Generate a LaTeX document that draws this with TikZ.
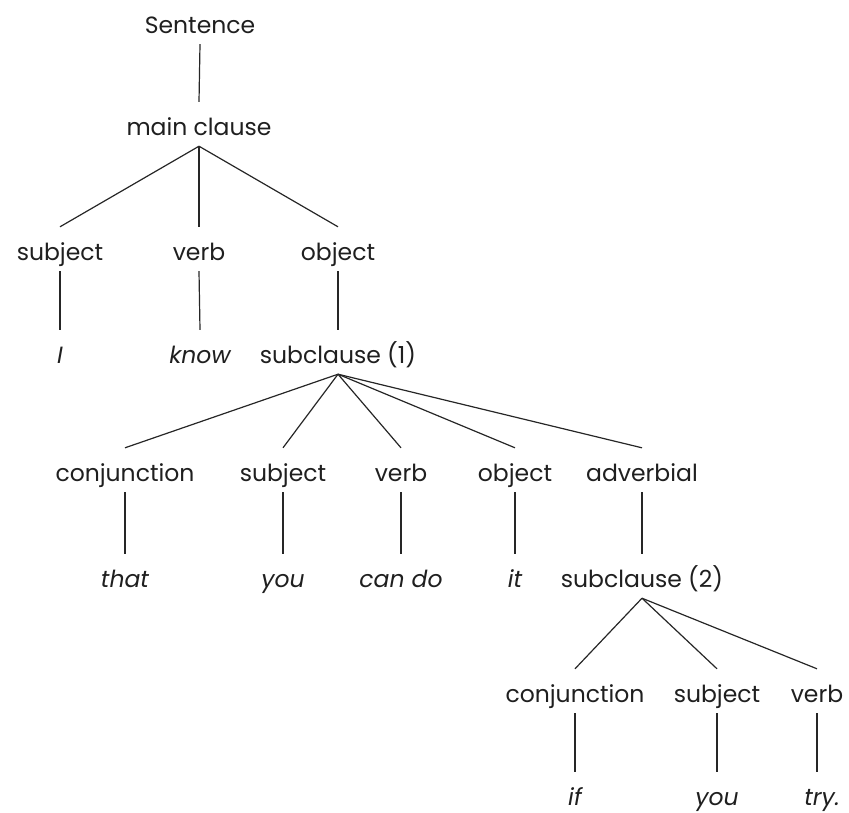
\documentclass[tikz,border=0pt]{standalone}
\usepackage{fontspec}
\setmainfont{Poppins}
\usetikzlibrary{positioning}

\begin{document}
\begin{tikzpicture}[
  x=1pt, y=-1pt,
  font=\fontsize{23.5}{27}\selectfont,
  cat/.style={
    anchor=base, text=black!88,
    text height=22pt, text depth=0pt,
    inner xsep=2pt, inner ysep=11pt
  },
  word/.style={cat, font=\fontsize{23.5}{27}\selectfont\itshape},
  branch/.style={line width=1.2pt, draw=black!85}
]
\useasboundingbox (0,0) rectangle (849,812);

% ── Row 0-1: Sentence and main clause ──────────────────────────────────────
\node[cat] (sent)  at (200,33)  {Sentence};
\node[cat] (mainc) at (199,135) {main clause};

% ── Row 2-3: Main clause constituents ──────────────────────────────────────
\node[cat]  (msubj) at (60,260)  {subject};
\node[cat]  (mverb) at (199,260) {verb};
\node[cat]  (mobj)  at (338,260) {object};
\node[word] (wI)    at (60,363)  {I};
\node[word] (wknow) at (200,363) {know};
\node[cat]  (subA)  at (338,363) {subclause (1)};

% ── Row 4-5: Subclause (1) constituents ────────────────────────────────────
\node[cat]  (aconj) at (125,481) {conjunction};
\node[cat]  (asubj) at (283,481) {subject};
\node[cat]  (averb) at (401,481) {verb};
\node[cat]  (aobj)  at (515,481) {object};
\node[cat]  (aadv)  at (642,481) {adverbial};
\node[word] (wthat) at (125,587) {that};
\node[word] (wyouA) at (283,587) {you};
\node[word] (wcan)  at (401,587) {can do};
\node[word] (wit)   at (515,587) {it};
\node[cat]  (subB)  at (642,587) {subclause (2)};

% ── Row 6-7: Subclause (2) constituents ────────────────────────────────────
\node[cat]  (bconj) at (575,702) {conjunction};
\node[cat]  (bsubj) at (717,702) {subject};
\node[cat]  (bverb) at (817,702) {verb};
\node[word] (wif)   at (575,805) {if};
\node[word] (wyouB) at (717,805) {you};
\node[word] (wtry)  at (822,805) {try.};

% ── Branches: top ──────────────────────────────────────────────────────────
\draw[branch] (sent.south) -- (mainc.north);
\draw[branch] (mainc.south) -- (msubj.north);
\draw[branch] (mainc.south) -- (mverb.north);
\draw[branch] (mainc.south) -- (mobj.north);
\draw[branch] (msubj.south) -- (wI.north);
\draw[branch] (mverb.south) -- (wknow.north);
\draw[branch] (mobj.south)  -- (subA.north);

% ── Branches: subclause (1) ────────────────────────────────────────────────
\foreach \c in {aconj,asubj,averb,aobj,aadv}
  \draw[branch] (subA.south) -- (\c.north);
\draw[branch] (aconj.south) -- (wthat.north);
\draw[branch] (asubj.south) -- (wyouA.north);
\draw[branch] (averb.south) -- (wcan.north);
\draw[branch] (aobj.south)  -- (wit.north);
\draw[branch] (aadv.south)  -- (subB.north);

% ── Branches: subclause (2) ────────────────────────────────────────────────
\foreach \c in {bconj,bsubj,bverb}
  \draw[branch] (subB.south) -- (\c.north);
\draw[branch] (bconj.south) -- (wif.north);
\draw[branch] (bsubj.south) -- (wyouB.north);
\draw[branch] (bverb.south) -- (bverb.south |- wtry.north);

\end{tikzpicture}
\end{document}
